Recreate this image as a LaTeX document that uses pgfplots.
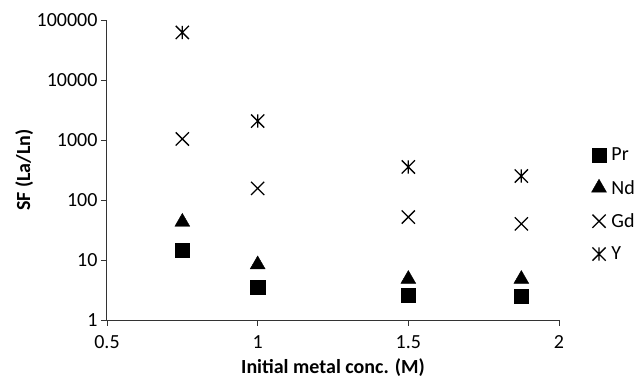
\documentclass[border=0pt]{standalone}
\usepackage{fontspec}
\setmainfont{Carlito}
\usepackage{pgfplots}
\pgfplotsset{compat=1.18}
\pgfdeclareplotmark{xcross}{%
  \pgfpathmoveto{\pgfqpoint{-\pgfplotmarksize}{-\pgfplotmarksize}}%
  \pgfpathlineto{\pgfqpoint{\pgfplotmarksize}{\pgfplotmarksize}}%
  \pgfpathmoveto{\pgfqpoint{-\pgfplotmarksize}{\pgfplotmarksize}}%
  \pgfpathlineto{\pgfqpoint{\pgfplotmarksize}{-\pgfplotmarksize}}%
  \pgfusepathqstroke}
\pgfdeclareplotmark{xstar}{%
  \pgfpathmoveto{\pgfqpoint{-\pgfplotmarksize}{-\pgfplotmarksize}}%
  \pgfpathlineto{\pgfqpoint{\pgfplotmarksize}{\pgfplotmarksize}}%
  \pgfpathmoveto{\pgfqpoint{-\pgfplotmarksize}{\pgfplotmarksize}}%
  \pgfpathlineto{\pgfqpoint{\pgfplotmarksize}{-\pgfplotmarksize}}%
  \pgfpathmoveto{\pgfqpoint{0pt}{-\pgfplotmarksize}}%
  \pgfpathlineto{\pgfqpoint{0pt}{\pgfplotmarksize}}%
  \pgfusepathqstroke}
\begin{document}
\begin{tikzpicture}
\useasboundingbox (-107pt,-58pt) rectangle (531pt,320pt);
\begin{axis}[
  at={(0,0)}, anchor=south west,
  width=452pt, height=300pt, scale only axis,
  xmin=0.5, xmax=2, ymode=log, ymin=1, ymax=100000,
  axis x line*=bottom, axis y line*=left,
  axis line style={line width=1pt, black!80},
  xtick={0.5,1,1.5,2}, xticklabels={0.5,1,1.5,2},
  ytick={1,10,100,1000,10000,100000},
  yticklabels={1,10,100,1000,10000,100000},
  yminorticks=false,
  tick align=outside, major tick length=6pt,
  tick style={black!80, line width=0.8pt},
  tick label style={font=\fontsize{20}{24}\selectfont},
  xticklabel style={yshift=-6pt},
  xlabel={\bfseries Initial metal conc. (M)},
  ylabel={\bfseries SF (La/Ln)},
  label style={font=\fontsize{20}{24}\selectfont},
  xlabel style={at={(axis description cs:0.5,-0.16)}, anchor=center},
  ylabel style={at={(axis description cs:-0.183,0.5)}, anchor=center},
  legend style={draw=none, fill=none, at={(axis description cs:1.065,0.385)}, anchor=west,
    font=\fontsize{20}{24}\selectfont, row sep=14pt, cells={anchor=west},
    nodes={inner xsep=5pt}},
  legend image code/.code={\draw[#1] plot coordinates {(0pt,0pt)};},
]
\addplot[only marks, mark=square*, mark size=7.2pt, black] coordinates {(0.75,14.7)(1,3.5)(1.5,2.6)(1.875,2.5)};
\addlegendentry{Pr}
\addplot[only marks, mark=triangle*, mark size=8.6pt, black] coordinates {(0.75,43)(1,8.4)(1.5,4.8)(1.875,4.8)};
\addlegendentry{Nd}
\addplot[only marks, mark=xcross, mark size=6.6pt, black, line width=1.3pt] coordinates {(0.75,1040)(1,156)(1.5,52)(1.875,40)};
\addlegendentry{Gd}
\addplot[only marks, mark=xstar, mark size=6.6pt, black, line width=1.3pt] coordinates {(0.75,62000)(1,2070)(1.5,355)(1.875,251)};
\addlegendentry{Y}
\end{axis}
\end{tikzpicture}
\end{document}
